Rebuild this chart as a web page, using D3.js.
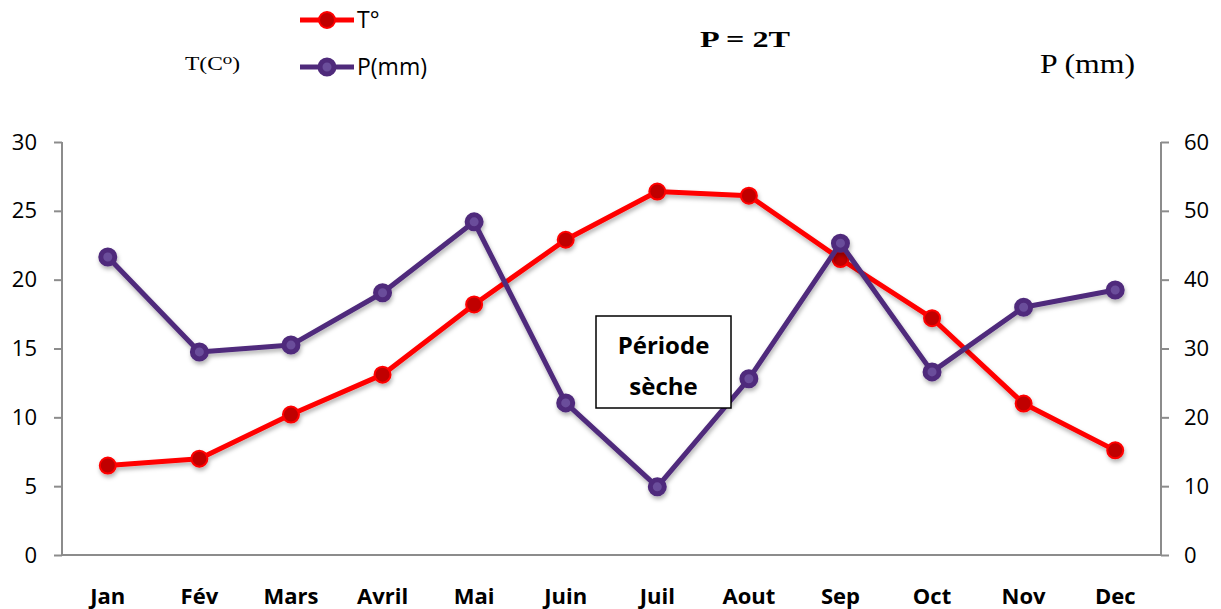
<!DOCTYPE html>
<html>
<head>
<meta charset="utf-8">
<script src="https://cdn.jsdelivr.net/npm/d3@7"></script>
<style>
  body { margin: 0; background: #fff; }
  svg { display: block; }
</style>
</head>
<body>
<svg></svg>
<script>
var months = ['Jan', 'Fév', 'Mars', 'Avril', 'Mai', 'Juin', 'Juil', 'Aout', 'Sep', 'Oct', 'Nov', 'Dec'];
var temp = [6.5, 7.0, 10.2, 13.1, 18.2, 22.9, 26.4, 26.1, 21.5, 17.2, 11.0, 7.6];
var precip = [43.3, 29.5, 30.5, 38.1, 48.4, 22.1, 9.9, 25.6, 45.3, 26.6, 36.0, 38.5];
var leftTicks = [0, 5, 10, 15, 20, 25, 30];
var rightTicks = [0, 10, 20, 30, 40, 50, 60];

/* svg setting */
var svgWidth = 1221;
var svgHeight = 609;
var plot = {left: 62, right: 1161, top: 142, bottom: 555};
var font = '"Open Sans", "Noto Sans", sans-serif';
var serif = '"Liberation Serif", "DejaVu Serif", serif';
var axisGray = '#8c8c8c';

var svg = d3.select('svg')
    .attr('width', svgWidth)
    .attr('height', svgHeight);

var defs = svg.append('defs');
var shadow = defs.append('filter').attr('id', 'shadow')
    .attr('x', '-20%').attr('y', '-20%').attr('width', '140%').attr('height', '140%');
shadow.append('feDropShadow')
    .attr('dx', 1).attr('dy', 3).attr('stdDeviation', 2)
    .attr('flood-color', '#000').attr('flood-opacity', 0.3);

/* scales */
var x = d3.scaleBand()
    .domain(months)
    .range([plot.left, plot.right]);
var yT = d3.scaleLinear().domain([0, 30]).range([plot.bottom, plot.top]);
var yP = d3.scaleLinear().domain([0, 60]).range([plot.bottom, plot.top]);

function cx(d, i) { return x(months[i]) + x.bandwidth() / 2; }

/* axes */
var leftAxis = svg.append('g')
    .attr('transform', translate(plot.left, 0))
    .call(d3.axisLeft(yT).tickValues(leftTicks).tickSize(8).tickPadding(17));
var rightAxis = svg.append('g')
    .attr('transform', translate(plot.right, 0))
    .call(d3.axisRight(yP).tickValues(rightTicks).tickSize(8).tickPadding(15));
var bottomAxis = svg.append('g')
    .attr('transform', translate(0, plot.bottom))
    .call(d3.axisBottom(x).tickSize(0).tickPadding(33));

[leftAxis, rightAxis, bottomAxis].forEach(function(g){
  g.selectAll('path, line').attr('stroke', axisGray).attr('stroke-width', 2);
  g.selectAll('text').attr('fill', '#000').style('font-family', font).style('font-size', '22px');
});
leftAxis.select('.domain').attr('d', 'M0,' + plot.top + 'V' + plot.bottom);
rightAxis.select('.domain').attr('d', 'M0,' + plot.top + 'V' + plot.bottom);
bottomAxis.select('.domain').attr('d', 'M' + plot.left + ',0H' + plot.right);
bottomAxis.selectAll('text').style('font-weight', 'bold').style('font-size', '22px');

/* lines */
var lineT = d3.line().x(cx).y(function(d){ return yT(d); });
var lineP = d3.line().x(cx).y(function(d){ return yP(d); });

var gT = svg.append('g').attr('filter', 'url(#shadow)');
gT.append('path')
    .datum(temp)
    .attr('d', lineT)
    .attr('fill', 'none')
    .attr('stroke', '#ff0000')
    .attr('stroke-width', 5)
    .attr('stroke-linejoin', 'round');
gT.selectAll('circle')
    .data(temp)
    .enter()
    .append('circle')
    .attr('cx', cx)
    .attr('cy', function(d){ return yT(d); })
    .attr('r', 8)
    .attr('fill', '#c00000')
    .attr('stroke', '#ff0000')
    .attr('stroke-width', 2);

var gP = svg.append('g').attr('filter', 'url(#shadow)');
gP.append('path')
    .datum(precip)
    .attr('d', lineP)
    .attr('fill', 'none')
    .attr('stroke', '#4f2a7b')
    .attr('stroke-width', 5)
    .attr('stroke-linejoin', 'round');
gP.selectAll('circle')
    .data(precip)
    .enter()
    .append('circle')
    .attr('cx', cx)
    .attr('cy', function(d){ return yP(d); })
    .attr('r', 7)
    .attr('fill', '#6b4e9b')
    .attr('stroke', '#4f2a7b')
    .attr('stroke-width', 5);

/* dry period box */
var box = svg.append('g').attr('transform', translate(596, 316));
box.append('rect')
    .attr('width', 135).attr('height', 92)
    .attr('fill', '#fff').attr('stroke', '#000').attr('stroke-width', 1.5);
box.append('text')
    .attr('x', 67.5).attr('y', 38)
    .attr('text-anchor', 'middle')
    .style('font-family', font).style('font-size', '24px').style('font-weight', 'bold')
    .text('Période');
box.append('text')
    .attr('x', 67.5).attr('y', 79)
    .attr('text-anchor', 'middle')
    .style('font-family', font).style('font-size', '24px').style('font-weight', 'bold')
    .text('sèche');

/* legend */
var legend = [
  {name: 'T°', y: 20, line: '#ff0000', fill: '#c00000', stroke: '#ff0000', sw: 2, r: 8},
  {name: 'P(mm)', y: 67, line: '#4f2a7b', fill: '#6b4e9b', stroke: '#4f2a7b', sw: 5, r: 7}
];
var lg = svg.append('g').selectAll('g').data(legend).enter().append('g');
lg.append('line')
    .attr('x1', 300).attr('x2', 354)
    .attr('y1', function(d){ return d.y; }).attr('y2', function(d){ return d.y; })
    .attr('stroke', function(d){ return d.line; })
    .attr('stroke-width', 5);
lg.append('circle')
    .attr('cx', 327).attr('cy', function(d){ return d.y; })
    .attr('r', function(d){ return d.r; })
    .attr('fill', function(d){ return d.fill; })
    .attr('stroke', function(d){ return d.stroke; })
    .attr('stroke-width', function(d){ return d.sw; });
lg.append('text')
    .attr('x', 357).attr('y', function(d){ return d.y + 8; })
    .style('font-family', font).style('font-size', '23px')
    .text(function(d){ return d.name; });

/* titles */
svg.append('text')
    .attr('x', 185).attr('y', 70)
    .attr('textLength', 55).attr('lengthAdjust', 'spacingAndGlyphs')
    .style('font-family', serif).style('font-size', '18px')
    .text('T(C⁰)');
svg.append('text')
    .attr('x', 700).attr('y', 47)
    .attr('textLength', 90).attr('lengthAdjust', 'spacingAndGlyphs')
    .style('font-family', serif).style('font-size', '24px').style('font-weight', 'bold')
    .text('P = 2T');
svg.append('text')
    .attr('x', 1040).attr('y', 73)
    .attr('textLength', 95).attr('lengthAdjust', 'spacingAndGlyphs')
    .style('font-family', serif).style('font-size', '27px')
    .text('P (mm)');

function translate(x, y) {
  return 'translate(' + x + ',' + y + ')';
}
</script>
</body>
</html>
